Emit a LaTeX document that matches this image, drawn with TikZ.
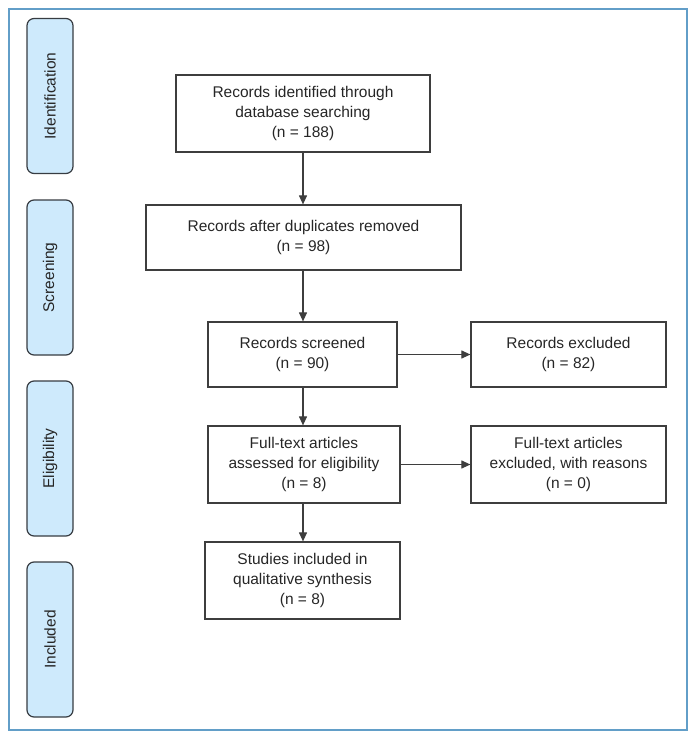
\documentclass[tikz,border=0pt]{standalone}
\usepackage{fontspec}
\setmainfont{Liberation Sans}
\usetikzlibrary{arrows.meta}
\definecolor{framecol}{RGB}{98,158,200}
\definecolor{phasefill}{RGB}{206,234,252}
\definecolor{phasecol}{RGB}{55,60,66}
\definecolor{boxcol}{RGB}{62,62,62}
\definecolor{txtcol}{RGB}{38,38,38}
\begin{document}
\begin{tikzpicture}[x=1pt,y=-1pt,
    box/.style={draw=boxcol,line width=1.2pt,align=center,inner sep=0pt,text=txtcol,font=\fontsize{15.5}{20}\selectfont},
    phase/.style={draw=phasecol,fill=phasefill,line width=1.2pt,rounded corners=7pt,rotate=90,minimum width=155pt,minimum height=46pt,inner sep=0pt,text=txtcol,font=\fontsize{15.5}{20}\selectfont},
    flow/.style={draw=boxcol,line width=1.1pt,-{Triangle[length=9pt,width=8pt]}}]
      \useasboundingbox (0,0) rectangle (698,740);%
      \draw[framecol,line width=2pt] (9,9) rectangle (687,730);%

      \node[phase] (P1) at (50,96) {Identification};%
      \node[phase] (P2) at (50,277.5) {Screening};%
      \node[phase] (P3) at (50,458.5) {Eligibility};%
      \node[phase] (P4) at (50,639.5) {Included};%

      \node[box,minimum width=254pt,minimum height=77pt] (B1) at (303,113.5) {Records identified through\\database searching\\(n = 188)};%
      \node[box,minimum width=315pt,minimum height=65pt] (B2) at (303.5,237.5) {Records after duplicates removed\\(n = 98)};%
      \node[box,minimum width=189pt,minimum height=65pt] (B3) at (302.5,354.5) {Records screened\\(n = 90)};%
      \node[box,minimum width=195pt,minimum height=65pt] (X1) at (568.5,354.5) {Records excluded\\(n = 82)};%
      \node[box,minimum width=192pt,minimum height=77pt] (B4) at (304,464.5) {Full-text articles\\assessed for eligibility\\(n = 8)};%
      \node[box,minimum width=195pt,minimum height=77pt] (X2) at (568.5,464.5) {Full-text articles\\excluded, with reasons\\(n = 0)};%
      \node[box,minimum width=195pt,minimum height=77pt] (B5) at (302.5,580.5) {Studies included in\\qualitative synthesis\\(n = 8)};%

      \draw[flow] (B1.south) -- (B1.south |- B2.north);%
      \draw[flow] (B2.south -| B1.south) -- (B1.south |- B3.north);%
      \draw[flow] (B3.south -| B1.south) -- (B1.south |- B4.north);%
      \draw[flow] (B4.south -| B1.south) -- (B1.south |- B5.north);%

      \draw[flow] (B3.east) -- (X1.west);%
      \draw[flow] (B4.east) -- (X2.west);%
    \end{tikzpicture}
\end{document}
